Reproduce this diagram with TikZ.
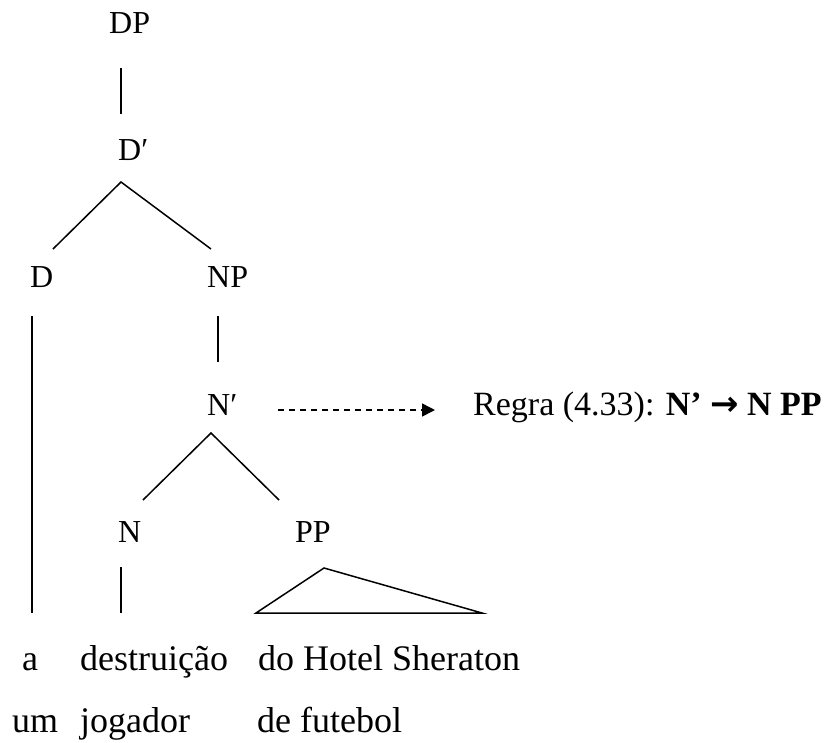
\documentclass[tikz,border=0pt]{standalone}
\usepackage{fontspec}
\setmainfont{Liberation Serif}
\newfontfamily\arrowfont{DejaVu Sans}
\usetikzlibrary{arrows.meta}
\begin{document}
\begin{tikzpicture}[x=1pt,y=-1pt,
  cat/.style={anchor=base west,inner sep=0pt,font=\fontsize{32}{36}\selectfont},
  word/.style={anchor=base west,inner sep=0pt,font=\fontsize{36}{40}\selectfont},
  branch/.style={line width=1.5pt,line cap=butt},
  dashedarrow/.style={line width=1.5pt,dash pattern=on 6pt off 5pt,-{Triangle[length=13pt,width=13pt]}}]
\useasboundingbox (0,0) rectangle (825,742);
% category labels
\node[cat] (DP) at (109,33) {DP};
\node[cat] (Dbar) at (118,160) {D′};
\node[cat] (D) at (30,287) {D};
\node[cat] (NP) at (207,287) {NP};
\node[cat] (Nbar) at (207,415) {N′};
\node[cat] (N) at (118,542) {N};
\node[cat] (PP) at (295,542) {PP};
% line end points
\coordinate (dpB) at (121,68);
\coordinate (dbT) at (121,114);
\coordinate (dbA) at (121,182);
\coordinate (dT) at (53,249);
\coordinate (npT) at (211,249);
\coordinate (dB) at (32,316);
\coordinate (dE) at (32,613);
\coordinate (npB) at (218,316);
\coordinate (nbT) at (218,362);
\coordinate (nbA) at (211,433);
\coordinate (nT) at (143,500);
\coordinate (ppT) at (279,500);
\coordinate (nB) at (121,567);
\coordinate (nE) at (121,613);
\coordinate (triA) at (324,568);
\coordinate (triL) at (256,613);
\coordinate (triR) at (482,613);
\coordinate (arrS) at (278,410);
\coordinate (arrE) at (435,410);
% branches
\draw[branch] (dpB) -- (dbT);
\draw[branch] (dT) -- (dbA) -- (npT);
\draw[branch] (dB) -- (dE);
\draw[branch] (npB) -- (nbT);
\draw[branch] (nT) -- (nbA) -- (ppT);
\draw[branch] (nB) -- (nE);
\draw[branch,line join=miter] (triA) -- (triL) -- (triR) -- cycle;
% rule annotation
\draw[dashedarrow] (arrS) -- (arrE);
\node[anchor=base west,inner sep=0pt,font=\fontsize{34}{38}\selectfont] (rule) at (473,415)
  {Regra (4.33): \textbf{N’ {\arrowfont\bfseries →} N PP}};
% words
\node[word] (w1) at (22,670) {a};
\node[word] (w2) at (80,670) {destruição};
\node[word] (w3) at (258,670) {do Hotel Sheraton};
\node[word] (w4) at (12,732) {um};
\node[word] (w5) at (80,732) {jogador};
\node[word] (w6) at (257,732) {de futebol};
\end{tikzpicture}
\end{document}
